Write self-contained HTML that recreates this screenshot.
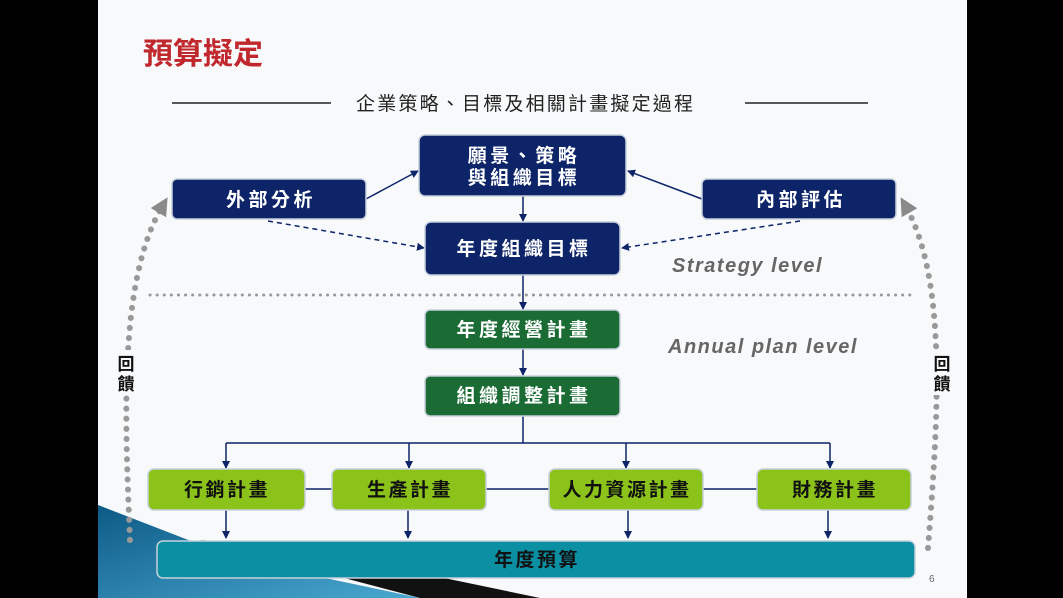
<!DOCTYPE html>
<html><head><meta charset="utf-8"><style>
body{margin:0;width:1063px;height:598px;background:#000;overflow:hidden;font-family:"Liberation Sans","Noto Sans CJK TC",sans-serif}
</style></head><body>
<svg width="1063" height="598" xmlns="http://www.w3.org/2000/svg" style="position:absolute;left:0;top:0">
<defs>
<marker id="a" markerWidth="8" markerHeight="8" refX="7" refY="4" orient="auto" markerUnits="userSpaceOnUse"><path d="M0,0 L8,4 L0,8 z" fill="#0d2468"/></marker>
<marker id="g" markerWidth="18" markerHeight="18" refX="9" refY="9" orient="auto" markerUnits="userSpaceOnUse"><path d="M0,0 L18,9 L0,18 z" fill="#8a8a8a"/></marker>
<linearGradient id="sw" x1="0" y1="0" x2="1" y2="1"><stop offset="0" stop-color="#0c5a86"/><stop offset="1" stop-color="#4aa8d0"/></linearGradient>
</defs>
<rect x="98" y="0" width="869" height="598" fill="#f7f9fb"/>
<path d="M98,505 L240,560 L420,598 L98,598 z" fill="url(#sw)"/>
<path d="M200,540 L420,598 L540,598 L300,548 z" fill="#111"/>
<text x="143" y="64" font-size="30" font-weight="bold" fill="#c0282d">預算擬定</text>
<line x1="172" y1="103" x2="331" y2="103" stroke="#222" stroke-width="1.5"/>
<line x1="745" y1="103" x2="868" y2="103" stroke="#222" stroke-width="1.5"/>
<text x="356" y="110" font-size="19" letter-spacing="2.2" fill="#222">企業策略、目標及相關計畫擬定過程</text>
<line x1="150" y1="295" x2="915" y2="295" stroke="#999" stroke-width="3" stroke-dasharray="0.1 7" stroke-linecap="round"/>
<path d="M130,540 C125,420 118,280 163,205" fill="none" stroke="#999" stroke-width="6" stroke-dasharray="0.1 10" stroke-linecap="round" marker-end="url(#g)"/>
<path d="M928,548 C938,420 948,280 905,205" fill="none" stroke="#999" stroke-width="6" stroke-dasharray="0.1 10" stroke-linecap="round" marker-end="url(#g)"/>
<rect x="112" y="350" width="28" height="45" fill="#f7f9fb"/>
<rect x="928" y="350" width="28" height="45" fill="#f7f9fb"/>
<text x="126" y="370" font-size="17" font-weight="bold" text-anchor="middle" fill="#111">回</text>
<text x="126" y="390" font-size="17" font-weight="bold" text-anchor="middle" fill="#111">饋</text>
<text x="942" y="370" font-size="17" font-weight="bold" text-anchor="middle" fill="#111">回</text>
<text x="942" y="390" font-size="17" font-weight="bold" text-anchor="middle" fill="#111">饋</text>
<text x="672" y="272" font-size="20" font-weight="bold" font-style="italic" letter-spacing="1.5" fill="#666">Strategy level</text>
<text x="668" y="353" font-size="20" font-weight="bold" font-style="italic" letter-spacing="1.5" fill="#666">Annual plan level</text>
<g stroke="#0d2468" stroke-width="1.5" fill="none">
<line x1="366" y1="199" x2="418" y2="171" marker-end="url(#a)"/>
<line x1="702" y1="199" x2="628" y2="171" marker-end="url(#a)"/>
<line x1="523" y1="196" x2="523" y2="221" marker-end="url(#a)"/>
<line x1="268" y1="221" x2="424" y2="248" stroke-dasharray="5 4" marker-end="url(#a)"/>
<line x1="800" y1="221" x2="622" y2="248" stroke-dasharray="5 4" marker-end="url(#a)"/>
<line x1="523" y1="275" x2="523" y2="309" marker-end="url(#a)"/>
<line x1="523" y1="349" x2="523" y2="375" marker-end="url(#a)"/>
<line x1="523" y1="416" x2="523" y2="443"/>
<line x1="226" y1="443" x2="830" y2="443"/>
<line x1="226" y1="443" x2="226" y2="468" marker-end="url(#a)"/>
<line x1="409" y1="443" x2="409" y2="468" marker-end="url(#a)"/>
<line x1="626" y1="443" x2="626" y2="468" marker-end="url(#a)"/>
<line x1="830" y1="443" x2="830" y2="468" marker-end="url(#a)"/>
<line x1="305" y1="489" x2="757" y2="489"/>
<line x1="226" y1="510" x2="226" y2="538" marker-end="url(#a)"/>
<line x1="408" y1="510" x2="408" y2="538" marker-end="url(#a)"/>
<line x1="628" y1="510" x2="628" y2="538" marker-end="url(#a)"/>
<line x1="828" y1="510" x2="828" y2="538" marker-end="url(#a)"/>
</g>
<g stroke="#c8d0dc" stroke-width="1.5">
<rect x="419" y="135" width="207" height="61" rx="6" fill="#0d2468"/>
<rect x="172" y="179" width="194" height="40" rx="5" fill="#0d2468"/>
<rect x="702" y="179" width="194" height="40" rx="5" fill="#0d2468"/>
<rect x="425" y="222" width="195" height="53" rx="6" fill="#0d2468"/>
<rect x="425" y="310" width="195" height="39" rx="5" fill="#1b6b35"/>
<rect x="425" y="376" width="195" height="40" rx="5" fill="#1b6b35"/>
<rect x="148" y="469" width="157" height="41" rx="6" fill="#8cc31a"/>
<rect x="332" y="469" width="154" height="41" rx="6" fill="#8cc31a"/>
<rect x="549" y="469" width="154" height="41" rx="6" fill="#8cc31a"/>
<rect x="757" y="469" width="154" height="41" rx="6" fill="#8cc31a"/>
<rect x="157" y="541" width="758" height="37" rx="6" fill="#0a8fa3"/>
</g>
<g font-size="19" font-weight="bold" text-anchor="middle" fill="#fff" letter-spacing="3.5">
<text x="524" y="162">願景、策略</text>
<text x="524" y="184">與組織目標</text>
<text x="271" y="206">外部分析</text>
<text x="801" y="206">內部評估</text>
<text x="524" y="255">年度組織目標</text>
<text x="524" y="336">年度經營計畫</text>
<text x="524" y="402">組織調整計畫</text>
<g fill="#111" letter-spacing="2.5"><text x="227" y="496">行銷計畫</text>
<text x="410" y="496">生產計畫</text>
<text x="627" y="496">人力資源計畫</text>
<text x="835" y="496">財務計畫</text>
<text x="537" y="566">年度預算</text></g>
</g>
<text x="929" y="582" font-size="10" fill="#666">6</text>
</svg>
</body></html>
